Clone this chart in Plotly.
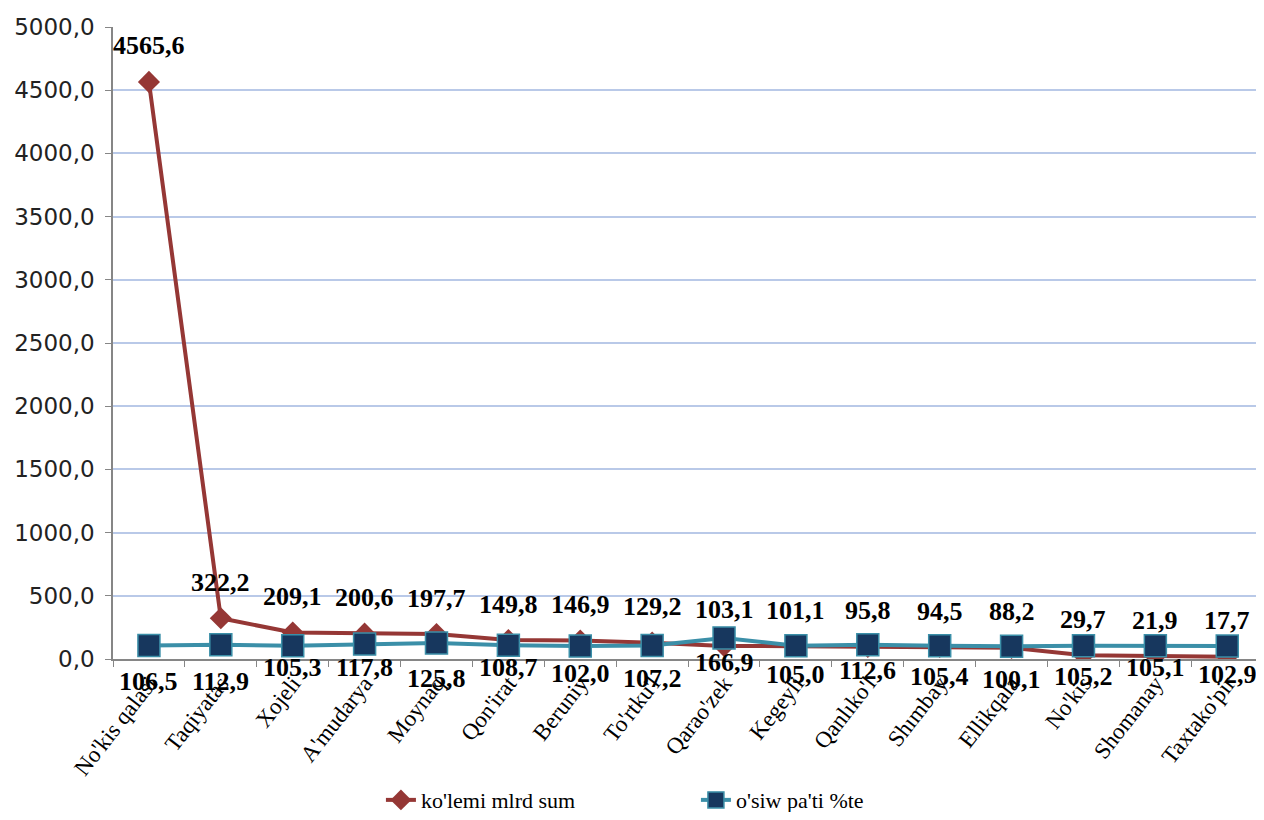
import plotly.graph_objects as go

categories = ["No'kis qalasi", "Taqiyatas", "Xojeli", "A'mudarya", "Moynaq", "Qon'irat",
              "Beruniy", "To'rtku'l", "Qarao'zek", "Kegeyli", "Qanlıko'l", "Shımbay",
              "Ellikqala", "No'kis", "Shomanay", "Taxtako'pir"]
kolemi = [4565.6, 322.2, 209.1, 200.6, 197.7, 149.8, 146.9, 129.2, 103.1, 101.1, 95.8, 94.5,
          88.2, 29.7, 21.9, 17.7]
osiw = [106.5, 112.9, 105.3, 117.8, 125.8, 108.7, 102.0, 107.2, 166.9, 105.0, 112.6, 105.4,
        100.1, 105.2, 105.1, 102.9]

# label placement (pixel offsets, styling only)
red_label_shift = 36
blue_label_shift = [36, 37, 22, 23, 35, 22, 27, 33, 25, 29, 26, 31, 33, 31, 22, 29]

RED = "#953735"
TEAL = "#3B8FA8"
NAVY = "#17375E"


def fmt(v):
    return f"{v:.1f}".replace(".", ",")


fig = go.Figure()
fig.add_trace(go.Scatter(
    x=categories, y=kolemi, mode="lines+markers", name="ko'lemi mlrd sum",
    line=dict(color=RED, width=4),
    marker=dict(symbol="diamond", size=17, color=RED),
))
fig.add_trace(go.Scatter(
    x=categories, y=osiw, mode="lines+markers", name="o'siw pa'ti %te",
    line=dict(color=TEAL, width=4),
    marker=dict(symbol="square", size=22, color=NAVY, line=dict(color=TEAL, width=1.5)),
))

label_font = dict(family="Liberation Serif", size=26, color="black")
for i, (c, v) in enumerate(zip(categories, kolemi)):
    fig.add_annotation(x=c, y=v, text=f"<b>{fmt(v)}</b>", showarrow=False,
                       yshift=red_label_shift, font=label_font)
for i, (c, v) in enumerate(zip(categories, osiw)):
    fig.add_annotation(x=c, y=v, text=f"<b>{fmt(v)}</b>", showarrow=False,
                       yshift=-blue_label_shift[i], font=label_font)

fig.update_layout(
    width=1248, height=804,
    margin=dict(l=105, r=0, t=19, b=153, autoexpand=False),
    plot_bgcolor="white", paper_bgcolor="white",
    separators=", ",
    showlegend=True,
    legend=dict(orientation="h", x=0.51, xanchor="center", y=-0.19, yanchor="top",
                font=dict(family="Liberation Serif", size=22, color="black"),
                entrywidth=270, entrywidthmode="pixels", traceorder="normal"),
    xaxis=dict(
        type="category", range=[-0.5, 15.4], automargin=False,
        tickangle=-52, tickson="boundaries", ticks="outside", ticklen=6,
        tickcolor="#868686", showline=True, linecolor="#868686", linewidth=1.5,
        showgrid=False,
        tickfont=dict(family="Liberation Serif", size=23, color="black"),
    ),
    yaxis=dict(
        range=[0, 5000], dtick=500, tickformat=".1f", automargin=False,
        ticks="outside", ticklen=6, tickcolor="#868686", ticklabelstandoff=6,
        showline=True, linecolor="#868686", linewidth=1.5,
        showgrid=True, gridcolor="#B9C9E8", gridwidth=1.5,
        zeroline=False,
        tickfont=dict(family="DejaVu Sans", size=23, color="#222222"),
    ),
)

fig.write_html("out.html")
